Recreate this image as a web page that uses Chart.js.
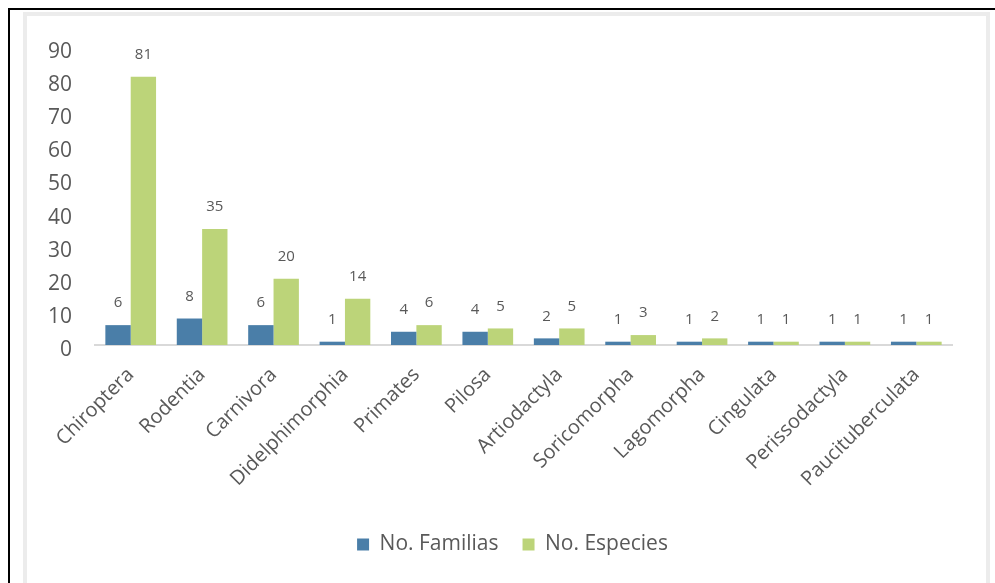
<!DOCTYPE html>
<html lang="es">
<head>
    <meta charset="UTF-8">
    <title>Órdenes de mamíferos</title>
    <script src="https://cdn.jsdelivr.net/npm/chart.js"></script>
    <style>
        body { margin: 0; background: #fff; overflow: hidden; }
        .outer {
            position: absolute; left: 8px; top: 8px; width: 985px; height: 600px;
            border-top: 2px solid #000; border-left: 2px solid #000;
        }
        .frame {
            position: absolute; left: 23px; top: 12px; width: 967px; height: 620px;
            box-sizing: border-box; border: 4px solid #ececec;
        }
        .chart-box { position: absolute; left: 27px; top: 16px; width: 958px; height: 567px; }
    </style>
</head>
<body>
    <div class="outer"></div>
    <div class="frame"></div>
    <div class="chart-box"><canvas id="ordenesChart"></canvas></div>

    <script>
        // Orders and counts
        const ordenes = ['Chiroptera', 'Rodentia', 'Carnivora', 'Didelphimorphia', 'Primates', 'Pilosa',
            'Artiodactyla', 'Soricomorpha', 'Lagomorpha', 'Cingulata', 'Perissodactyla', 'Paucituberculata'];
        const familias = [6, 8, 6, 1, 4, 4, 2, 1, 1, 1, 1, 1];
        const especies = [81, 35, 20, 14, 6, 5, 5, 3, 2, 1, 1, 1];
        const yTicks = [0, 10, 20, 30, 40, 50, 60, 70, 80, 90];

        const textColor = '#595959';
        const fontName = "'Open Sans', sans-serif";

        // draw each value above its bar
        const valueLabels = {
            id: 'valueLabels',
            afterDatasetsDraw(chart) {
                const ctx = chart.ctx;
                ctx.save();
                ctx.fillStyle = textColor;
                ctx.font = '15px ' + fontName;
                ctx.textAlign = 'center';
                ctx.textBaseline = 'middle';
                chart.data.datasets.forEach((ds, i) => {
                    chart.getDatasetMeta(i).data.forEach((bar, j) => {
                        ctx.fillText(ds.data[j], bar.x, bar.y - 22);
                    });
                });
                ctx.restore();
            }
        };

        const ctx = document.getElementById('ordenesChart').getContext('2d');
        const ordenesChart = new Chart(ctx, {
            type: 'bar',
            data: {
                labels: ordenes,
                datasets: [{
                    label: 'No. Familias',
                    data: familias,
                    backgroundColor: '#4a7ea8'
                }, {
                    label: 'No. Especies',
                    data: especies,
                    backgroundColor: '#bcd479'
                }]
            },
            options: {
                responsive: true,
                maintainAspectRatio: false,
                animation: false,
                layout: { padding: { top: 31, right: 0, bottom: 18, left: 13 } },
                datasets: { bar: { categoryPercentage: 0.71, barPercentage: 1 } },
                plugins: {
                    tooltip: { enabled: false },
                    legend: {
                        position: 'bottom',
                        labels: {
                            color: textColor,
                            font: { family: fontName, size: 21 },
                            boxWidth: 12,
                            boxHeight: 12,
                            padding: 24
                        }
                    }
                },
                scales: {
                    x: {
                        grid: { display: false, drawTicks: false },
                        border: { color: '#d9d9d9', width: 2 },
                        ticks: {
                            color: textColor,
                            font: { family: fontName, size: 20 },
                            maxRotation: 45,
                            minRotation: 45,
                            autoSkip: false,
                            padding: 18
                        },
                        afterFit(scale) { scale.height = 165; }
                    },
                    y: {
                        min: 0,
                        max: 90,
                        grid: { display: false, drawTicks: false },
                        border: { display: false },
                        afterBuildTicks(scale) { scale.ticks = yTicks.map(v => ({ value: v })); },
                        ticks: {
                            color: textColor,
                            font: { family: fontName, size: 21 },
                            padding: 23,
                            labelOffset: 5
                        },
                        afterFit(scale) {
                            scale.width = 55;
                            scale.paddingTop = 0;
                            scale.paddingBottom = 0;
                        }
                    },
                    // empty right-hand strip so the plot stops short of the frame
                    yRight: {
                        position: 'right',
                        grid: { display: false, drawTicks: false },
                        border: { display: false },
                        ticks: { display: false },
                        afterFit(scale) { scale.width = 33; }
                    }
                }
            },
            plugins: [valueLabels]
        });
    </script>
</body>
</html>
